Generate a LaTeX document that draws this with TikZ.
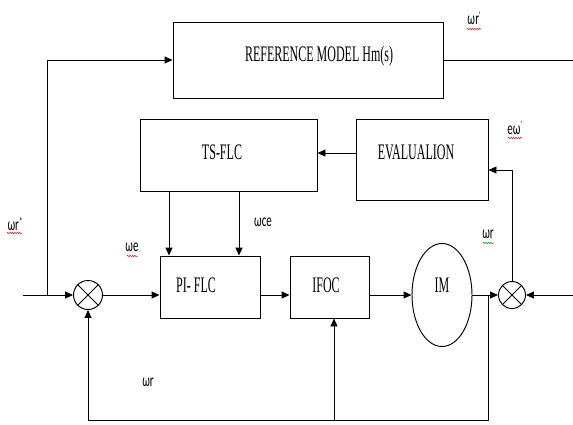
\documentclass[tikz,border=0pt]{standalone}
\usepackage{fontspec}
\setmainfont{Liberation Serif}
\newfontfamily\labfont{Carlito}
\usetikzlibrary{arrows.meta,shapes.geometric,decorations.pathmorphing}
\newcommand{\vstr}[1]{\scalebox{1}[1.85]{#1}}
\newcommand{\lstr}[1]{\scalebox{1}[1.6]{#1}}
\begin{document}
\begin{tikzpicture}[x=1pt,y=-1pt,
  line width=0.95pt,
  arr/.style={-{Triangle[length=8pt,width=7pt]}},
  blk/.style={draw, rectangle, inner sep=0pt},
  sumj/.style={draw, circle, minimum size=29pt, inner sep=0pt},
  btext/.style={font=\fontsize{12}{14}\selectfont, inner sep=0pt},
  ltext/.style={font=\labfont\fontsize{11}{12}\selectfont, inner sep=0pt},
  squig/.style={line width=0.5pt, decorate, decoration={snake, amplitude=0.7pt, segment length=2.4pt}}
]
\useasboundingbox (0,0) rectangle (573,424);

% blocks
\node[blk, minimum width=270pt, minimum height=76pt] (ref) at (308,60) {};
\node[blk, minimum width=177pt, minimum height=72pt] (ts) at (228.5,155) {};
\node[blk, minimum width=132pt, minimum height=81pt] (ev) at (422,159.5) {};
\node[blk, minimum width=100pt, minimum height=62pt] (pi) at (210,287) {};
\node[blk, minimum width=79pt, minimum height=62pt] (ifoc) at (329.5,287) {};
\node[draw, ellipse, minimum width=60pt, minimum height=103pt, inner sep=0pt] (im) at (442,295) {};
\node[sumj] (s1) at (88,295) {};
\node[sumj, minimum size=27pt] (s2) at (512,295) {};
\draw (s1.north east) -- (s1.south west) (s1.north west) -- (s1.south east);
\draw (s2.north east) -- (s2.south west) (s2.north west) -- (s2.south east);

% block texts
\node[btext] (reft) at (319,56) {\vstr{REFERENCE MODEL Hm(s)}};
\node[btext] (tst) at (222,152) {\vstr{TS-FLC}};
\node[btext] (evt) at (416,152) {\vstr{EVALUALION}};
\node[btext] (pit) at (196,285) {\vstr{PI- FLC}};
\node[btext] (ifoct) at (326,285) {\vstr{IFOC}};
\node[btext] (imt) at (442,285) {\vstr{IM}};

% coordinates
\coordinate (in) at (23,295);
\coordinate (br) at (47,295);
\coordinate (out) at (573,60);
\coordinate (rin) at (573,295);
\coordinate (fb) at (488,295);

% connectors
\draw[arr] (in) -- (s1.west);
\draw[arr] (br) |- (ref.west);
\draw (ref.east) -- (out);
\draw[arr] (s1.east) -- (s1.east -| pi.west);
\draw[arr] (pi.east |- s1.east) -- (ifoc.west |- s1.east);
\draw[arr] (ifoc.east |- s1.east) -- (im.west);
\draw[arr] (im.east) -- (s2.west);
\draw[arr] (rin) -- (s2.east);
\draw[arr] (ev.west |- 0,153) -- (ts.east |- 0,153);
\draw[arr] (s2.north) -- (s2.north |- 0,170) -- (ev.east |- 0,170);
\draw[arr] (169,0 |- ts.south) -- (169,0 |- pi.north);
\draw[arr] (239,0 |- ts.south) -- (239,0 |- pi.north);
\draw[arr] (fb) -- (fb |- 0,420) -| (s1.south);
\draw[arr] (334,420) -- (334,0 |- ifoc.south);

% labels
\node[ltext] (l1) at (474,18) {\lstr{ω\kern0.3pt r\raisebox{3pt}{\scriptsize '}}};
\node[ltext] (l2) at (515,128) {\lstr{eω\raisebox{3pt}{\scriptsize `}}};
\node[ltext] (l3) at (15,224) {\lstr{ωr\raisebox{3pt}{\scriptsize *}}};
\node[ltext] (l4) at (132,247) {\lstr{ωe}};
\node[ltext] (l5) at (263,222) {\lstr{ωce}};
\node[ltext] (l6) at (488,234) {\lstr{ωr}};
\node[ltext] (l7) at (148,382) {\lstr{ωr}};

% spell-check squiggles
\draw[squig, red] (467,29) -- (481,29);
\draw[squig, red] (508,138) -- (522,138);
\draw[squig, red] (7,233) -- (22,233);
\draw[squig, red] (127,256) -- (138,256);
\draw[squig, green!60!black] (483,243) -- (494,243);
\end{tikzpicture}
\end{document}
